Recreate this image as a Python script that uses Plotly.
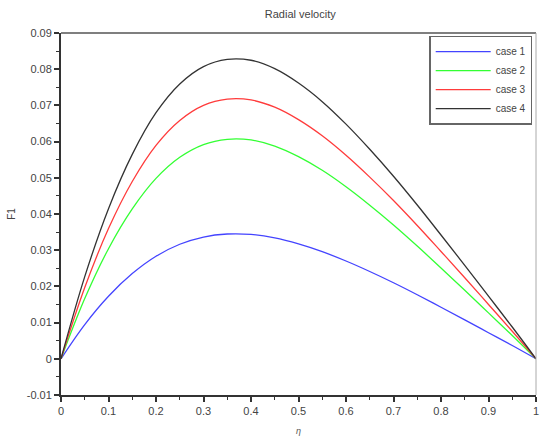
import plotly.graph_objects as go

eta = [0.0, 0.05, 0.1, 0.15, 0.2, 0.25, 0.3, 0.35, 0.4, 0.45, 0.5,
       0.55, 0.6, 0.65, 0.7, 0.75, 0.8, 0.85, 0.9, 0.95, 1.0]

case1 = [0, 0.00945, 0.01728, 0.02353, 0.02832, 0.03164, 0.03364, 0.03447, 0.03436, 0.0334, 0.03174,
         0.0296, 0.02701, 0.02412, 0.02101, 0.0177, 0.01425, 0.01076, 0.00721, 0.00366, 0]
case2 = [0, 0.01663, 0.03041, 0.0414, 0.04983, 0.05566, 0.05918, 0.06064, 0.06046, 0.05876, 0.05584,
         0.05208, 0.04753, 0.04243, 0.03697, 0.03114, 0.02507, 0.01894, 0.01269, 0.00643, 0]
case3 = [0, 0.01967, 0.03597, 0.04897, 0.05895, 0.06584, 0.07001, 0.07173, 0.07151, 0.0695, 0.06606,
         0.0616, 0.05622, 0.05019, 0.04373, 0.03683, 0.02965, 0.0224, 0.01501, 0.00761, 0]
case4 = [0, 0.02269, 0.04148, 0.05647, 0.06798, 0.07593, 0.08073, 0.08272, 0.08247, 0.08015, 0.07618,
         0.07104, 0.06483, 0.05788, 0.05043, 0.04248, 0.0342, 0.02583, 0.0173, 0.00878, 0]

series_names = ["case 1", "case 2", "case 3", "case 4"]
series_colors = ["#4444ff", "#33ff33", "#ff3b3b", "#333333"]

x_ticks = [0, 0.1, 0.2, 0.3, 0.4, 0.5, 0.6, 0.7, 0.8, 0.9, 1]
x_tick_labels = ["0", "0.1", "0.2", "0.3", "0.4", "0.5", "0.6", "0.7", "0.8", "0.9", "1"]
y_ticks = [-0.01, 0, 0.01, 0.02, 0.03, 0.04, 0.05, 0.06, 0.07, 0.08, 0.09]
y_tick_labels = ["-0.01", "0", "0.01", "0.02", "0.03", "0.04", "0.05", "0.06", "0.07", "0.08", "0.09"]

fig = go.Figure()
for name, vals, col in zip(series_names, [case1, case2, case3, case4], series_colors):
    fig.add_trace(go.Scatter(x=eta, y=vals, mode="lines", name=name,
                             line=dict(color=col, width=1.3, shape="spline", smoothing=1.0)))

font_main = "Liberation Sans, Arial, sans-serif"
fig.update_layout(
    width=541, height=437,
    margin=dict(l=61, r=2, t=33, b=41),
    paper_bgcolor="white", plot_bgcolor="white",
    font=dict(family=font_main, size=10, color="#444444"),
    title=dict(text="Radial velocity", x=0.555, xanchor="center", y=0.976, yanchor="top",
               font=dict(family=font_main, size=11, color="#444444")),
    showlegend=True,
    legend=dict(x=0.992, y=0.993, xanchor="right", yanchor="top",
                bordercolor="#666666", borderwidth=1.5, bgcolor="white",
                font=dict(family=font_main, size=10, color="#444444"),
                itemwidth=55, tracegroupgap=0),
    xaxis=dict(range=[0, 1], tickvals=x_ticks, ticktext=x_tick_labels,
               showgrid=False, zeroline=False, showline=True, linecolor="#333333", linewidth=2,
               ticks="outside", ticklen=5, tickwidth=1.5, tickcolor="#333333",
               minor=dict(dtick=0.05, ticks="outside", ticklen=3, tickwidth=1.2, tickcolor="#333333"),
               tickfont=dict(size=11, color="#444444"), ticklabeloverflow="allow",
               title=dict(text="<i>η</i>", font=dict(size=9, color="#555555"), standoff=11)),
    yaxis=dict(range=[-0.01, 0.09], tickvals=y_ticks, ticktext=y_tick_labels,
               showgrid=False, zeroline=False, showline=True, linecolor="#333333", linewidth=2,
               ticks="outside", ticklen=5, tickwidth=1.5, tickcolor="#333333",
               minor=dict(dtick=0.005, ticks="outside", ticklen=3, tickwidth=1.2, tickcolor="#333333"),
               tickfont=dict(size=11, color="#444444"),
               title=dict(text="F1", font=dict(size=10, color="#444444"), standoff=9)),
)
fig.add_shape(type="line", xref="paper", yref="paper", x0=0, x1=1, y0=1, y1=1,
              line=dict(color="#555555", width=1.5))
fig.add_shape(type="line", xref="paper", yref="paper", x0=1, x1=1, y0=0, y1=1,
              line=dict(color="#aaaaaa", width=1))

fig.write_html("out.html", config={"displayModeBar": False},
               post_script="document.body.style.margin='0';document.body.style.overflow='hidden';")
